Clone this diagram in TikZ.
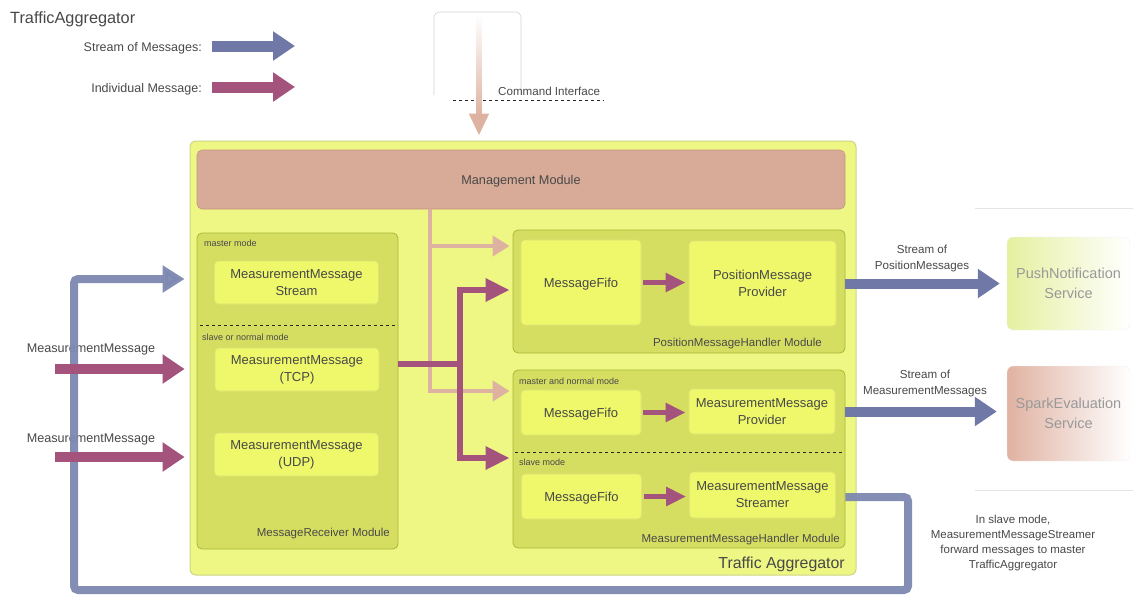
\documentclass[tikz,border=0pt]{standalone}
\usepackage{fontspec}
\setmainfont{Liberation Sans}
\usetikzlibrary{arrows.meta,calc}
\definecolor{outerfill}{RGB}{238,247,132}
\definecolor{outerdraw}{RGB}{205,214,130}
\definecolor{modfill}{RGB}{214,222,98}
\definecolor{moddraw}{RGB}{168,184,56}
\definecolor{boxfill}{RGB}{238,248,106}
\definecolor{boxdraw}{RGB}{220,228,118}
\definecolor{mgmtfill}{RGB}{215,171,152}
\definecolor{mgmtdraw}{RGB}{196,150,130}
\definecolor{peach}{RGB}{222,178,160}
\definecolor{streamblue}{RGB}{112,120,168}
\definecolor{loopblue}{RGB}{125,136,176}
\definecolor{msgmag}{RGB}{163,83,124}
\definecolor{txt}{RGB}{72,72,72}
\definecolor{pushfill}{RGB}{230,240,160}
\definecolor{sparkfill}{RGB}{224,178,162}
\begin{document}
\begin{tikzpicture}[x=1pt,y=-1pt,
  every node/.style={text=txt, inner sep=0pt, align=center, font=\fontsize{13}{17}\selectfont},
  outerbox/.style={draw=outerdraw, fill=outerfill, rounded corners=6pt, line width=1pt},
  modbox/.style={draw=moddraw, fill=modfill, rounded corners=5pt, line width=0.8pt},
  innerbox/.style={draw=boxdraw, fill=boxfill, rounded corners=4pt, line width=0.6pt},
  oneline/.style={text depth=0pt},
  mgmtbox/.style={draw=mgmtdraw, fill=mgmtfill, rounded corners=5pt, line width=0.6pt},
  service/.style={draw=black!6, rounded corners=6pt, minimum width=123pt, text=black!40, font=\fontsize{14.5}{20}\selectfont},
  small/.style={font=\fontsize{9}{11}\selectfont},
  modlabel/.style={font=\fontsize{11.5}{14}\selectfont},
  note/.style={font=\fontsize{11.5}{15}\selectfont},
  bigstream/.style={streamblue, line width=11pt, -{Triangle[length=22pt,width=28pt]}},
  bigmsg/.style={msgmag, line width=11pt, -{Triangle[length=22pt,width=28pt]}},
  loopline/.style={loopblue, line width=8pt, rounded corners=4pt, -{Triangle[length=22pt,width=26pt]}},
  msgarrow/.style={msgmag, line width=6pt, -{Triangle[length=24pt,width=22pt]}},
  fifoarrow/.style={msgmag, line width=5pt, -{Triangle[length=20pt,width=18pt]}},
  ctrl/.style={peach, line width=4.5pt, -{Triangle[length=17pt,width=20pt]}},
  sep/.style={black!85, dashed, line width=0.7pt}
]
\useasboundingbox (0,0) rectangle (1133,598);

% ---------- title and legend ----------
\node[anchor=base west, font=\fontsize{16.3}{19}\selectfont] (title) at (10,23) {TrafficAggregator};
\node[anchor=base east, font=\fontsize{12.5}{15}\selectfont] (lgs) at (202,51) {Stream of Messages:};
\node[anchor=base east, font=\fontsize{12.5}{15}\selectfont] (lgm) at (202,92) {Individual Message:};
\coordinate (lgs1) at (212,46); \coordinate (lgs2) at (295,46);
\coordinate (lgm1) at (212,87); \coordinate (lgm2) at (295,87);
\draw[bigstream] (lgs1) -- (lgs2);
\draw[bigmsg] (lgm1) -- (lgm2);

% ---------- command interface ----------
\draw[black!18, line width=0.6pt, rounded corners=5pt] (434,95) -- (434,12) -- (521,12) -- (521,95);
\draw[sep] (453,100) -- (604,100);
\node[anchor=base west, font=\fontsize{11.6}{14}\selectfont] (cmdlbl) at (498,95) {Command Interface};

% ---------- main containers ----------
\node[outerbox, minimum width=666pt, minimum height=434pt] (ta) at (523,358) {};
\node[anchor=base east, font=\fontsize{15.9}{19}\selectfont] (talbl) at (845,568) {Traffic Aggregator};
\node[mgmtbox, oneline, minimum width=648pt, minimum height=59pt, font=\fontsize{12.7}{15}\selectfont] (mgmt) at (521,179.5) {Management Module};

% command arrow
\coordinate (cmdtop) at (479,15);
\shade[top color=white, bottom color=peach] (476.5,15) rectangle (481.5,116);
\draw[peach, line width=5pt, -{Triangle[length=22pt,width=19pt]}, shorten >=5pt] (479,114) -- (ta.north -| cmdtop);

% receiver module
\node[modbox, minimum width=201pt, minimum height=316pt] (recv) at (297.5,391) {};
\node[anchor=base west, small] (mmode) at (204,246) {master mode};
\draw[sep] (200,325) -- (398,325);
\node[anchor=base west, small] (snmode) at (202,340) {slave or normal mode};
\node[anchor=base east, modlabel] (recvlbl) at (390,536) {MessageReceiver Module};
\node[innerbox, minimum width=164pt, minimum height=43pt] (mstream) at (296.5,282.5) {MeasurementMessage\\Stream};
\node[innerbox, minimum width=164pt, minimum height=43pt] (mtcp) at (297,369.5) {MeasurementMessage\\(TCP)};
\node[innerbox, minimum width=164pt, minimum height=43pt] (mudp) at (296.5,454.5) {MeasurementMessage\\(UDP)};

% position handler module
\node[modbox, minimum width=332pt, minimum height=123pt] (pmh) at (679,291.5) {};
\node[innerbox, oneline, minimum width=120pt, minimum height=85pt] (fifo1) at (581,282.5) {MessageFifo};
\node[innerbox, minimum width=147pt, minimum height=85pt] (ppm) at (762.5,283.5) {PositionMessage\\Provider};
\node[anchor=base east, modlabel] (pmhlbl) at (822,346) {PositionMessageHandler Module};

% measurement handler module
\node[modbox, minimum width=332pt, minimum height=178pt] (mmh) at (679,459) {};
\node[anchor=base west, small] (mnmode) at (519,384) {master and normal mode};
\node[innerbox, oneline, minimum width=120pt, minimum height=45pt] (fifo2) at (581,412.5) {MessageFifo};
\node[innerbox, minimum width=146pt, minimum height=45pt] (mmp) at (762,411.5) {MeasurementMessage\\Provider};
\draw[sep] (515,452) -- (843,452);
\node[anchor=base west, small] (smode) at (519,465) {slave mode};
\node[innerbox, oneline, minimum width=120pt, minimum height=45pt] (fifo3) at (581.5,496.5) {MessageFifo};
\node[innerbox, minimum width=146pt, minimum height=46pt] (mms) at (762.5,495) {MeasurementMessage\\Streamer};
\node[anchor=base east, modlabel] (mmhlbl) at (840,542) {MeasurementMessageHandler Module};

% inner arrows
\draw[fifoarrow, shorten <=2pt, shorten >=3pt] (fifo1.east) -- (fifo1.east -| ppm.west);
\draw[fifoarrow, shorten <=2pt, shorten >=3pt] (fifo2.east) -- (fifo2.east -| mmp.west);
\draw[fifoarrow, shorten <=2pt, shorten >=3pt] (fifo3.east) -- (fifo3.east -| mms.west);

% management control lines
\coordinate (cx) at (430,0);
\coordinate (cy1) at (0,246);
\coordinate (cy2) at (0,391);
\draw[ctrl, shorten >=3pt] (mgmt.south -| cx) |- (pmh.west |- cy1);
\draw[ctrl, shorten >=3pt] (mgmt.south -| cx) |- (mmh.west |- cy2);

% message distribution from TCP
\coordinate (mj) at (460,364);
\coordinate (my1) at (0,290);
\coordinate (my2) at (0,458);
\draw[msgmag, line width=6pt] (recv.east |- mj) -- (mj);
\draw[msgarrow, shorten >=3pt] (mj) |- (pmh.west |- my1);
\draw[msgarrow, shorten >=3pt] (mj) |- (mmh.west |- my2);

% services
\node[service, minimum height=93pt, left color=pushfill, right color=white] (push) at (1068.5,283.5) {PushNotification\\Service};
\node[service, minimum height=95pt, left color=sparkfill, right color=white] (spark) at (1068.5,413.5) {SparkEvaluation\\Service};
\draw[black!10, line width=0.6pt] (975,208) -- (1133,208);
\draw[black!10, line width=0.6pt] (975,490) -- (1133,490);

\draw[bigstream, line width=10pt, shorten >=7pt] (pmh.east |- ppm.east) -- (push.west);
\node[font=\fontsize{11.6}{16}\selectfont] (pslbl) at (922,258) {Stream of\\PositionMessages};
\draw[bigstream, line width=10pt, shorten >=10pt] (mmh.east |- mmp.east) -- (spark.west |- mmp.east);
\node[font=\fontsize{11.6}{16}\selectfont] (mslbl) at (925,383) {Stream of\\MeasurementMessages};

% note
\node[note] (notelbl) at (1013,543) {In slave mode,\\MeasurementMessageStreamer\\forward messages to master\\TrafficAggregator};

% input labels
\node[font=\fontsize{12.6}{15}\selectfont] (in1lbl) at (91,349) {MeasurementMessage};
\node[font=\fontsize{12.6}{15}\selectfont] (in2lbl) at (91,439) {MeasurementMessage};

% feedback loop
\coordinate (fb1) at (908,497);
\coordinate (fb2) at (908,590);
\coordinate (fb3) at (74,590);
\coordinate (fby) at (0,279);
\draw[loopline, opacity=0.95, shorten >=12pt] (mmh.east |- fb1) -- (fb1) -- (fb2) -- (fb3) |- (recv.west |- fby);

% input message arrows
\coordinate (in1) at (55,369);
\coordinate (in2) at (55,457);
\draw[bigmsg, line width=10pt, shorten >=12pt] (in1) -- (recv.west |- in1);
\draw[bigmsg, line width=10pt, shorten >=12pt] (in2) -- (recv.west |- in2);
\end{tikzpicture}
\end{document}
